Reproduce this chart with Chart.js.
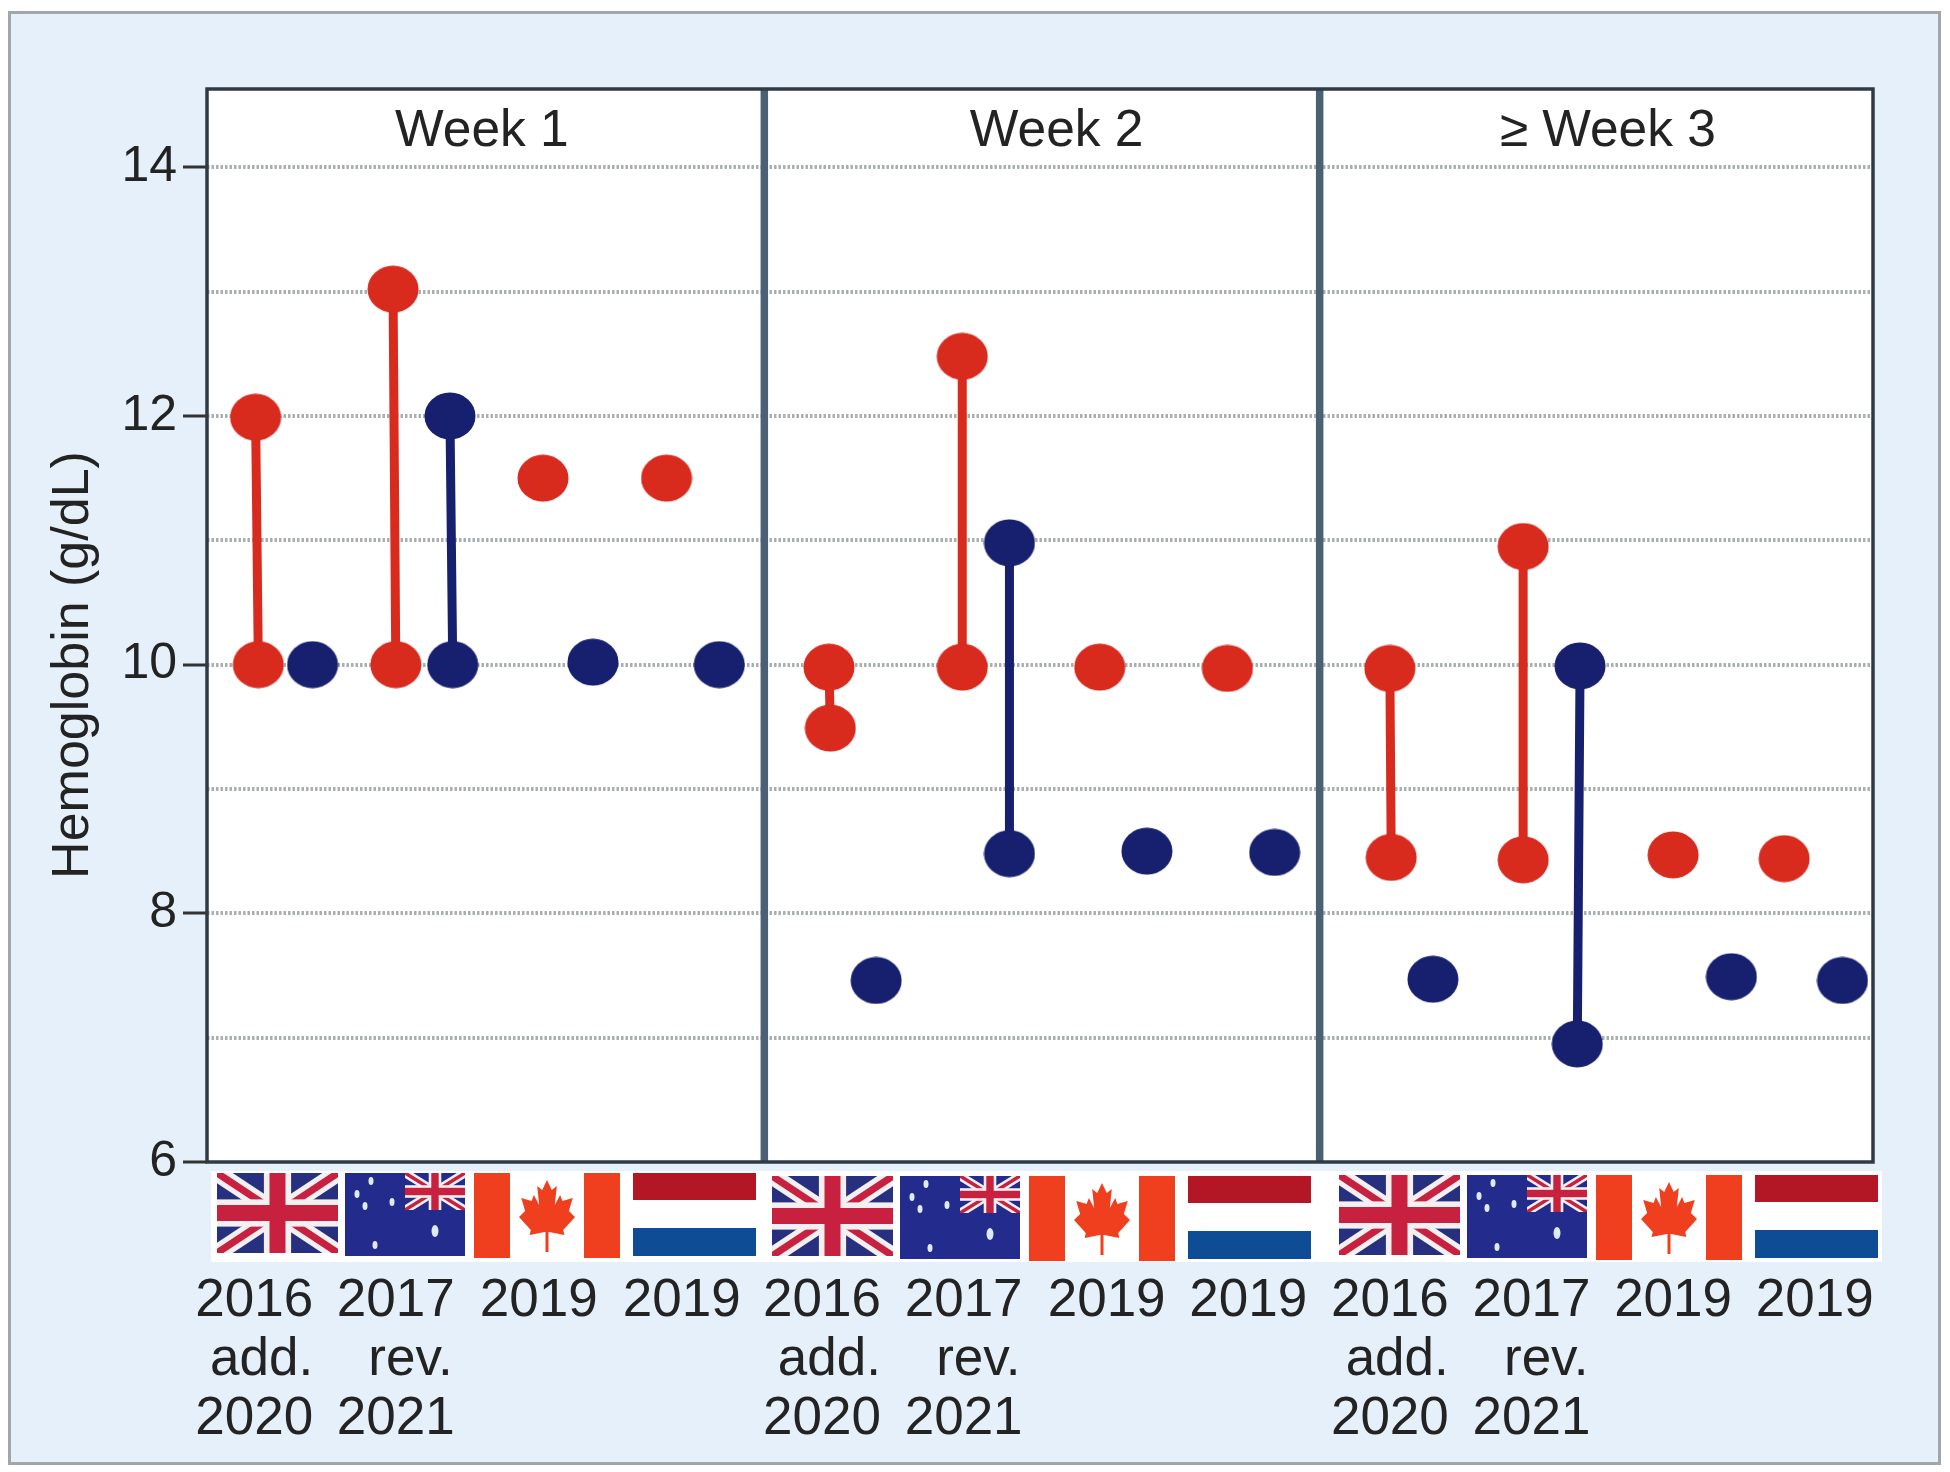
<!DOCTYPE html>
<html>
<head>
<meta charset="utf-8">
<title>Hemoglobin thresholds</title>
<script src="https://cdn.jsdelivr.net/npm/chart.js@4"></script>
<style>
  html, body { margin: 0; padding: 0; background: #fff; }
  #panel { position: absolute; left: 8px; top: 11px; width: 1927px; height: 1448px; background: #e6f0fa; border: 3px solid #a2a6a8; }
  canvas { position: absolute; left: 0; top: 0; }
</style>
</head>
<body>
<div id="panel"></div>
<canvas id="chart" width="1950" height="1472"></canvas>
<script>
// x is in slot units: 4 slots per panel, 12 slots in all. null breaks the stem line
const redX = [0.35, 0.37, null, 1.34, 1.36, null, 2.42, null, 3.31, null,
              4.48, 4.49, null, 5.44, 5.44, null, 6.43, null, 7.35, null,
              8.52, 8.53, null, 9.48, 9.48, null, 10.56, null, 11.36];
const redY = [11.99, 10, null, 13.02, 10, null, 11.5, null, 11.5, null,
              9.98, 9.49, null, 12.48, 9.98, null, 9.98, null, 9.97, null,
              9.97, 8.45, null, 10.95, 8.43, null, 8.47, null, 8.44];
const blueX = [0.76, null, 1.75, 1.77, null, 2.78, null, 3.69, null,
               4.82, null, 5.78, 5.78, null, 6.77, null, 7.69, null,
               8.83, null, 9.89, 9.87, null, 10.98, null, 11.78];
const blueY = [10, null, 12, 10, null, 10.02, null, 10, null,
               7.46, null, 10.98, 8.48, null, 8.5, null, 8.49, null,
               7.47, null, 9.99, 6.95, null, 7.49, null, 7.46];

const yTicks = [6, 7, 8, 9, 10, 11, 12, 13, 14];
const yLabels = [6, 8, 10, 12, 14];
const panelTitles = ['Week 1', 'Week 2', '\u2265 Week 3'];
const panelEdges = [4, 8];
const titleSlots = [1.98, 6.12, 10.09];
const labelSlots = [0.34, 1.36, 2.39, 3.42, 4.43, 5.45, 6.48, 7.5, 8.52, 9.54, 10.56, 11.58];
const guidelineLabels = [
  ['2016', 'add.', '2020'], ['2017', 'rev.', '2021'], ['2019'], ['2019'],
  ['2016', 'add.', '2020'], ['2017', 'rev.', '2021'], ['2019'], ['2019'],
  ['2016', 'add.', '2020'], ['2017', 'rev.', '2021'], ['2019'], ['2019']
];

const FONT = '"Liberation Sans", Arial, sans-serif';
const TEXT = '#232323';
const RED = '#d92a1e';
const NAVY = '#17206f';

// slightly wide dots, like the original
function dot(color) {
  const c = document.createElement('canvas');
  c.width = 52; c.height = 48;
  const g = c.getContext('2d');
  g.fillStyle = color;
  g.beginPath();
  g.ellipse(26, 24, 25.5, 23.5, 0, 0, Math.PI * 2);
  g.fill();
  return c;
}

function toPoints(xs, ys) {
  return xs.map((x, i) => ({ x: x, y: ys[i] }));
}

function union(ctx, x, y, w, h) {
  ctx.save();
  ctx.beginPath(); ctx.rect(x, y, w, h); ctx.clip();
  const d = Math.max(h, w) * 0.13;
  ctx.lineCap = 'butt';
  ctx.strokeStyle = '#f4f0f2'; ctx.lineWidth = d * 1.1;
  ctx.beginPath();
  ctx.moveTo(x, y); ctx.lineTo(x + w, y + h);
  ctx.moveTo(x + w, y); ctx.lineTo(x, y + h);
  ctx.stroke();
  ctx.strokeStyle = '#c8203f'; ctx.lineWidth = d * 0.45;
  ctx.stroke();
  ctx.fillStyle = '#f4f0f2';
  ctx.fillRect(x + w / 2 - h * 0.17, y, h * 0.34, h);
  ctx.fillRect(x, y + h / 2 - h * 0.17, w, h * 0.34);
  ctx.fillStyle = '#c8203f';
  ctx.fillRect(x + w / 2 - h * 0.1, y, h * 0.2, h);
  ctx.fillRect(x, y + h / 2 - h * 0.1, w, h * 0.2);
  ctx.restore();
}

function flagUK(ctx, x, y) {
  ctx.fillStyle = '#27307f';
  ctx.fillRect(x, y, 121, 80);
  union(ctx, x, y, 121, 80);
}

function flagAU(ctx, x, y) {
  ctx.fillStyle = '#232c8c';
  ctx.fillRect(x, y, 120, 83);
  union(ctx, x + 60, y, 60, 37);
  ctx.fillStyle = '#dfeaf6';
  [[26, 8], [12, 21], [47, 29], [20, 33], [90, 58], [30, 72]].forEach(s => {
    ctx.beginPath();
    ctx.ellipse(x + s[0], y + s[1], s[0] === 90 ? 3.5 : 2.5, s[0] === 90 ? 6 : 4, 0, 0, Math.PI * 2);
    ctx.fill();
  });
}

function flagCA(ctx, x, y) {
  const half = [[0, 0], [0.17, 0.2], [0.35, 0.12], [0.28, 0.5], [0.47, 0.3], [0.55, 0.42],
                [0.92, 0.36], [0.78, 0.62], [1, 0.74], [0.58, 1], [0.62, 1.1], [0.08, 1.04]];
  ctx.fillStyle = '#f03f1e';
  ctx.fillRect(x, y, 36, 85);
  ctx.fillRect(x + 110, y, 36, 85);
  const cx = x + 73, top = y + 7;
  ctx.beginPath();
  half.forEach(p => ctx.lineTo(cx + p[0] * 28, top + p[1] * 50));
  half.slice().reverse().forEach(p => ctx.lineTo(cx - p[0] * 28, top + p[1] * 50));
  ctx.closePath();
  ctx.fill();
  ctx.fillRect(cx - 1.5, top + 50, 3, 22);
}

function flagNL(ctx, x, y) {
  ctx.fillStyle = '#b31625';
  ctx.fillRect(x, y, 123, 27);
  ctx.fillStyle = '#0f4c96';
  ctx.fillRect(x, y + 55, 123, 28);
}

const flags = [
  { draw: flagUK, x: 217 }, { draw: flagAU, x: 345 },
  { draw: flagCA, x: 474 }, { draw: flagNL, x: 633 }
];
const flagShift = [[0, 0], [555, 3], [1122, 2]];

const decorations = {
  id: 'decorations',
  beforeDraw(chart) {
    const { ctx, chartArea: a } = chart;
    ctx.save();
    ctx.fillStyle = '#fff';
    ctx.fillRect(a.left, a.top, a.right - a.left, a.bottom - a.top);
    ctx.restore();
  },
  afterDatasetsDraw(chart) {
    const { ctx, chartArea: a, scales } = chart;
    ctx.save();
    // panel separators
    ctx.strokeStyle = '#4a6074';
    ctx.lineWidth = 7.5;
    panelEdges.forEach(v => {
      const px = scales.x.getPixelForValue(v) + 2;
      ctx.beginPath(); ctx.moveTo(px, a.top); ctx.lineTo(px, a.bottom); ctx.stroke();
    });
    // frame
    ctx.strokeStyle = '#2f3a44';
    ctx.lineWidth = 3.5;
    ctx.strokeRect(a.left, a.top, a.right - a.left, a.bottom - a.top);
    // week titles
    ctx.fillStyle = TEXT;
    ctx.font = '51.5px ' + FONT;
    ctx.textAlign = 'center';
    ctx.textBaseline = 'middle';
    panelTitles.forEach((t, i) => ctx.fillText(t, scales.x.getPixelForValue(titleSlots[i]), 132));
    ctx.restore();
  },
  afterDraw(chart) {
    const { ctx } = chart;
    ctx.save();
    // y title
    ctx.save();
    ctx.translate(74, 665);
    ctx.rotate(-Math.PI / 2);
    ctx.fillStyle = TEXT;
    ctx.font = '52px ' + FONT;
    ctx.textAlign = 'center';
    ctx.textBaseline = 'middle';
    ctx.fillText('Hemoglobin (g/dL)', 0, 0);
    ctx.restore();
    // flag strip
    ctx.fillStyle = '#fff';
    ctx.fillRect(211, 1171, 1671, 91);
    flagShift.forEach(s => {
      flags.forEach(f => f.draw(ctx, f.x + s[0], 1173 + s[1]));
    });
    ctx.restore();
  }
};

function stemSet(xs, ys, color, width) {
  return {
    data: toPoints(xs, ys),
    showLine: true,
    spanGaps: false,
    borderColor: color,
    borderWidth: width,
    backgroundColor: color,
    pointStyle: dot(color),
    pointRadius: 24,
    clip: false
  };
}

new Chart(document.getElementById('chart'), {
  type: 'scatter',
  data: { datasets: [stemSet(redX, redY, RED, 9), stemSet(blueX, blueY, NAVY, 9)] },
  plugins: [decorations],
  options: {
    responsive: false,
    animation: false,
    layout: { padding: { left: 0, right: 77, top: 89, bottom: 0 } },
    plugins: { legend: { display: false }, tooltip: { enabled: false } },
    scales: {
      x: {
        type: 'linear',
        min: 0,
        max: 12,
        // labels never reach the edges, so no extra room for them
        afterFit: s => { s.height = 1472 - 1162; s.paddingLeft = 0; s.paddingRight = 0; },
        afterBuildTicks: s => { s.ticks = labelSlots.map(v => ({ value: v })); },
        border: { display: false },
        grid: { display: false },
        ticks: {
          autoSkip: false,
          maxRotation: 0,
          padding: 102,
          color: TEXT,
          font: { family: FONT, size: 53, lineHeight: 1.115 },
          callback: (v, i) => guidelineLabels[i].map(l =>
            l === 'add.' ? '\u00a0' + l : l === 'rev.' ? '\u00a0\u00a0' + l : l)
        }
      },
      y: {
        type: 'linear',
        min: 6,
        max: 14.63,
        afterFit: s => { s.width = 207; },
        afterBuildTicks: s => { s.ticks = yTicks.map(v => ({ value: v })); },
        border: { display: false, dash: [2.5, 2] },
        grid: {
          color: c => c.tick && c.tick.value === 6 ? 'transparent' : '#a9aeae',
          lineWidth: 4,
          tickBorderDash: [],
          tickLength: 24,
          tickWidth: 3,
          tickColor: c => yLabels.includes(c.tick.value) ? '#333' : 'transparent'
        },
        ticks: {
          padding: 6,
          color: TEXT,
          font: { family: FONT, size: 50 },
          callback: v => yLabels.includes(v) ? String(v) : ''
        }
      }
    }
  }
});
</script>
</body>
</html>
